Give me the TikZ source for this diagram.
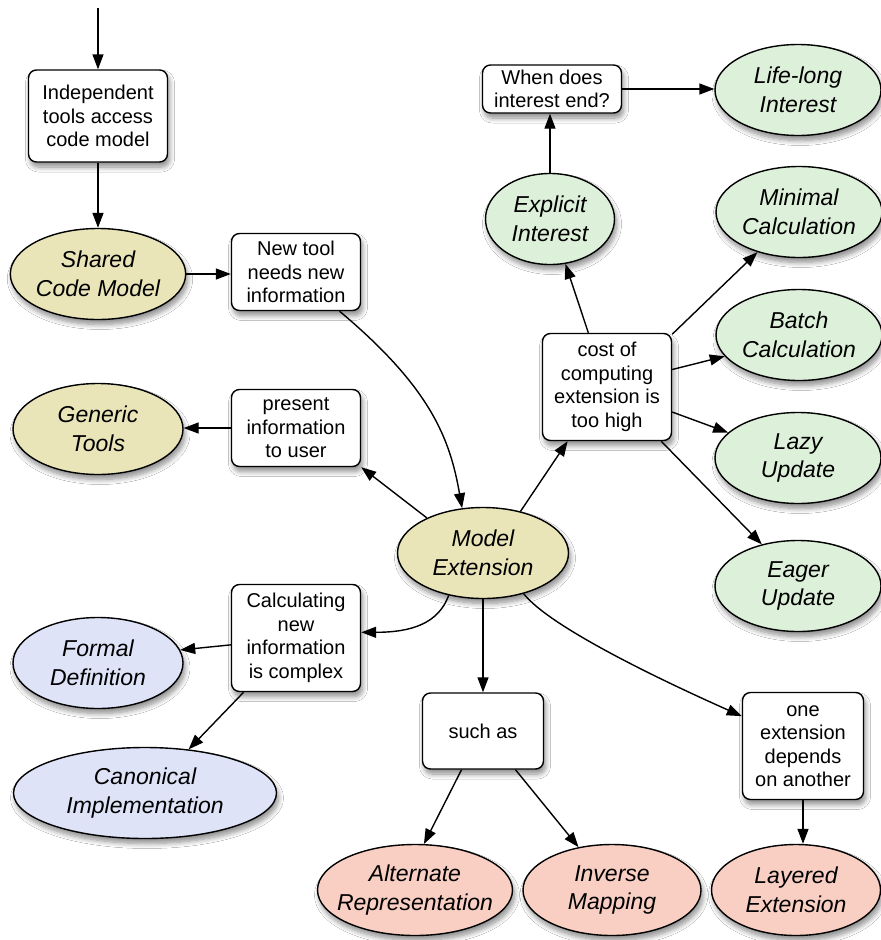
\documentclass[tikz,border=0pt]{standalone}
\usepackage{fontspec}
\setmainfont{Liberation Sans}
\usetikzlibrary{arrows.meta,shapes.geometric,shadows.blur}
\definecolor{cTan}{HTML}{E9E5B9}
\definecolor{cGreen}{HTML}{DDF1DA}
\definecolor{cBlue}{HTML}{DEE3F7}
\definecolor{cPink}{HTML}{F9CFC3}
\begin{document}
\begin{tikzpicture}[x=1pt,y=1pt,
  sh/.style={blur shadow={shadow xshift=2pt,shadow yshift=-5pt,shadow blur radius=5pt,shadow blur steps=8,shadow opacity=45}},
  box/.style={draw,fill=white,rounded corners=8pt,align=center,inner sep=0pt,line width=1.4pt,
    font=\fontsize{20}{23.5}\selectfont,sh},
  oval/.style={draw,ellipse,inner sep=0pt,align=center,line width=1.4pt,minimum height=91pt,
    font=\fontsize{23}{28.5}\selectfont\itshape,sh},
  arr/.style={-{Triangle[length=15pt,width=11pt]},line width=1.4pt}]
\fill[white] (0,0) rectangle (881,-940);
\useasboundingbox (0,0) rectangle (881,-940);

\node[box,minimum width=139pt,minimum height=92pt] (itb) at (98,-116) {Independent\\tools access\\code model};
\node[oval,fill=cTan,minimum width=170pt] (sc) at (98,-274) {Shared\\Code Model};
\node[box,minimum width=129pt,minimum height=77pt] (nt) at (296,-272) {New tool\\needs new\\information};
\node[oval,fill=cTan,minimum width=170pt] (gt) at (98,-429) {Generic\\Tools};
\node[box,minimum width=129pt,minimum height=77pt] (pi) at (296,-428) {present\\information\\to user};
\node[oval,fill=cTan,minimum width=171pt] (me) at (483,-553) {Model\\Extension};
\node[box,minimum width=129pt,minimum height=107pt] (ci) at (296,-638) {Calculating\\new\\information\\is complex};
\node[oval,fill=cBlue,minimum width=170pt] (fd) at (98,-663) {Formal\\Definition};
\node[oval,fill=cBlue,minimum width=263pt] (cim) at (145,-793) {Canonical\\Implementation};
\node[box,minimum width=121pt,minimum height=76pt] (sa) at (483,-731) {such as};
\node[oval,fill=cPink,minimum width=195pt,inner xsep=-10pt] (ar) at (415,-890) {Alternate\\Representation};
\node[oval,fill=cPink,minimum width=178pt] (im) at (612,-890) {Inverse\\Mapping};
\node[oval,fill=cPink,minimum width=169pt] (le) at (796,-890) {Layered\\Extension};
\node[box,minimum width=121pt,minimum height=107pt] (oe) at (803,-746) {one\\extension\\depends\\on another};
\node[box,minimum width=129pt,minimum height=107pt] (cc) at (607,-387) {cost of\\computing\\extension is\\too high};
\node[oval,fill=cGreen,minimum width=129pt] (ei) at (550,-219) {Explicit\\Interest};
\node[box,minimum width=139pt,minimum height=48pt] (wd) at (552,-89) {When does\\interest end?};
\node[oval,fill=cGreen,minimum width=166pt] (li) at (798,-90) {Life-long\\Interest};
\node[oval,fill=cGreen,minimum width=166pt] (mc) at (799,-212) {Minimal\\Calculation};
\node[oval,fill=cGreen,minimum width=166pt] (bc) at (799,-335) {Batch\\Calculation};
\node[oval,fill=cGreen,minimum width=166pt] (lu) at (798,-458) {Lazy\\Update};
\node[oval,fill=cGreen,minimum width=166pt] (eu) at (798,-586) {Eager\\Update};

\coordinate (top) at (98,-8);

\draw[arr] (top) -- (itb.north);
\draw[arr] (itb.south) -- (sc.north);
\draw[arr] (sc.east) -- (sc.east -| nt.west);
\draw[arr] (nt.-42) .. controls +(-40:120pt) and +(100:70pt) .. (me.115);
\draw[arr] (me.148) -- (pi.-31);
\draw[arr] (pi.west) -- (pi.west -| gt.east);
\draw[arr] (me.48) -- (cc.-126);
\draw[arr] (cc.109) -- (ei.-71);
\draw[arr] (ei.north) -- (ei.north |- wd.south);
\draw[arr] (wd.east) -- (wd.east -| li.west);
\draw[arr] (cc.39) -- (mc.-136);
\draw[arr] (cc.15) -- (bc.-164);
\draw[arr] (cc.-21) -- (lu.160);
\draw[arr] (cc.-45) -- (eu.131);
\draw[arr] (me.-129) .. controls +(-110:30pt) and +(0:50pt) .. (ci.5);
\draw[arr] (ci.-174) -- (fd.9);
\draw[arr] (ci.-134) -- (cim.45);
\draw[arr] (me.south) -- (sa.north);
\draw[arr] (sa.-119) -- (ar.79);
\draw[arr] (sa.-50) -- (im.128);
\draw[arr] (me.-45) .. controls +(-52:40pt) and +(156:100pt) .. (oe.154);
\draw[arr] (oe.south) -- (oe.south |- le.north);
\end{tikzpicture}
\end{document}
